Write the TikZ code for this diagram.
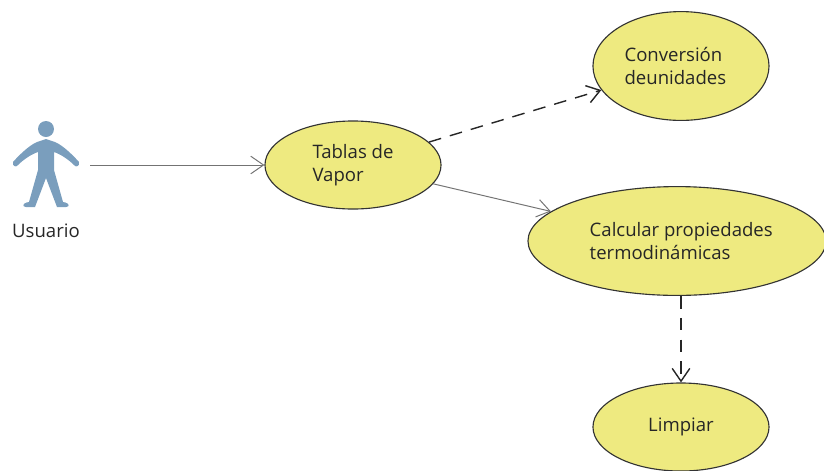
\documentclass[tikz,border=0pt]{standalone}
\usepackage{fontspec}
\setmainfont{Open Sans}
\usetikzlibrary{arrows.meta,shapes.geometric}

\definecolor{usecasefill}{HTML}{EEEA80}
\definecolor{actorblue}{HTML}{7A9EBD}
\tikzset{
    usecase/.style={draw=black!80, thick, fill=usecasefill, ellipse, inner sep=0pt, align=left, text=black!85, font=\fontsize{13.2}{16.4}\selectfont},
    assoc/.style={draw=black!55, line width=0.7pt, -{Straight Barb[length=3.2mm,width=4.4mm]}},
    depend/.style={draw=black!85, line width=1pt, dash pattern=on 9pt off 6.5pt, -{Straight Barb[length=3.2mm,width=4.4mm]}}
}

\begin{document}
\begin{tikzpicture}[x=0.025cm, y=-0.025cm]
    \useasboundingbox (0,0) rectangle (824,470);

    % Actor
    \begin{scope}[actorblue]
        \fill (46,129) circle (8);
        \fill (46,139) -- (52,141) .. controls (60,143) and (70,152) .. (79,162)
            .. controls (80,166) and (76,168) .. (74,165)
            .. controls (68,159) and (60,154) .. (54,152)
            -- (54,170) -- (63,202) .. controls (70,203) and (70,207) .. (66,207)
            -- (57,207) -- (46,178) -- (35,207) -- (26,207)
            .. controls (22,207) and (22,203) .. (29,202)
            -- (38,170) -- (38,152)
            .. controls (32,154) and (24,159) .. (18,165)
            .. controls (16,168) and (12,166) .. (13,162)
            .. controls (22,152) and (32,143) .. (40,141) -- cycle;
    \end{scope}
    \node [font=\fontsize{13.2}{16}\selectfont, text=black!85] (usuario) at (46,231) {Usuario};
    \coordinate (actor) at (90,165);

    % Use cases
    \node [usecase, minimum width=4.4cm, minimum height=2.2cm] (tablas) at (353,165) {Tablas de\\Vapor};
    \node [usecase, minimum width=4.4cm, minimum height=2.72cm] (conversion) at (681,66) {\hspace*{-8pt}Conversión\\\hspace*{-8pt}deunidades};
    \node [usecase, minimum width=7.45cm, minimum height=2.72cm] (calcular) at (677,241) {\hspace*{6pt}Calcular propiedades\\\hspace*{6pt}termodinámicas};
    \node [usecase, minimum width=4.4cm, minimum height=2.2cm] (limpiar) at (681,427) {Limpiar};

    % Connectors
    \draw [assoc] (actor) -- (tablas);
    \draw [assoc] (tablas) -- (calcular);
    \draw [depend] (tablas) -- (conversion);
    \draw [depend] (limpiar.north |- calcular.south) -- (limpiar.north);
\end{tikzpicture}
\end{document}
